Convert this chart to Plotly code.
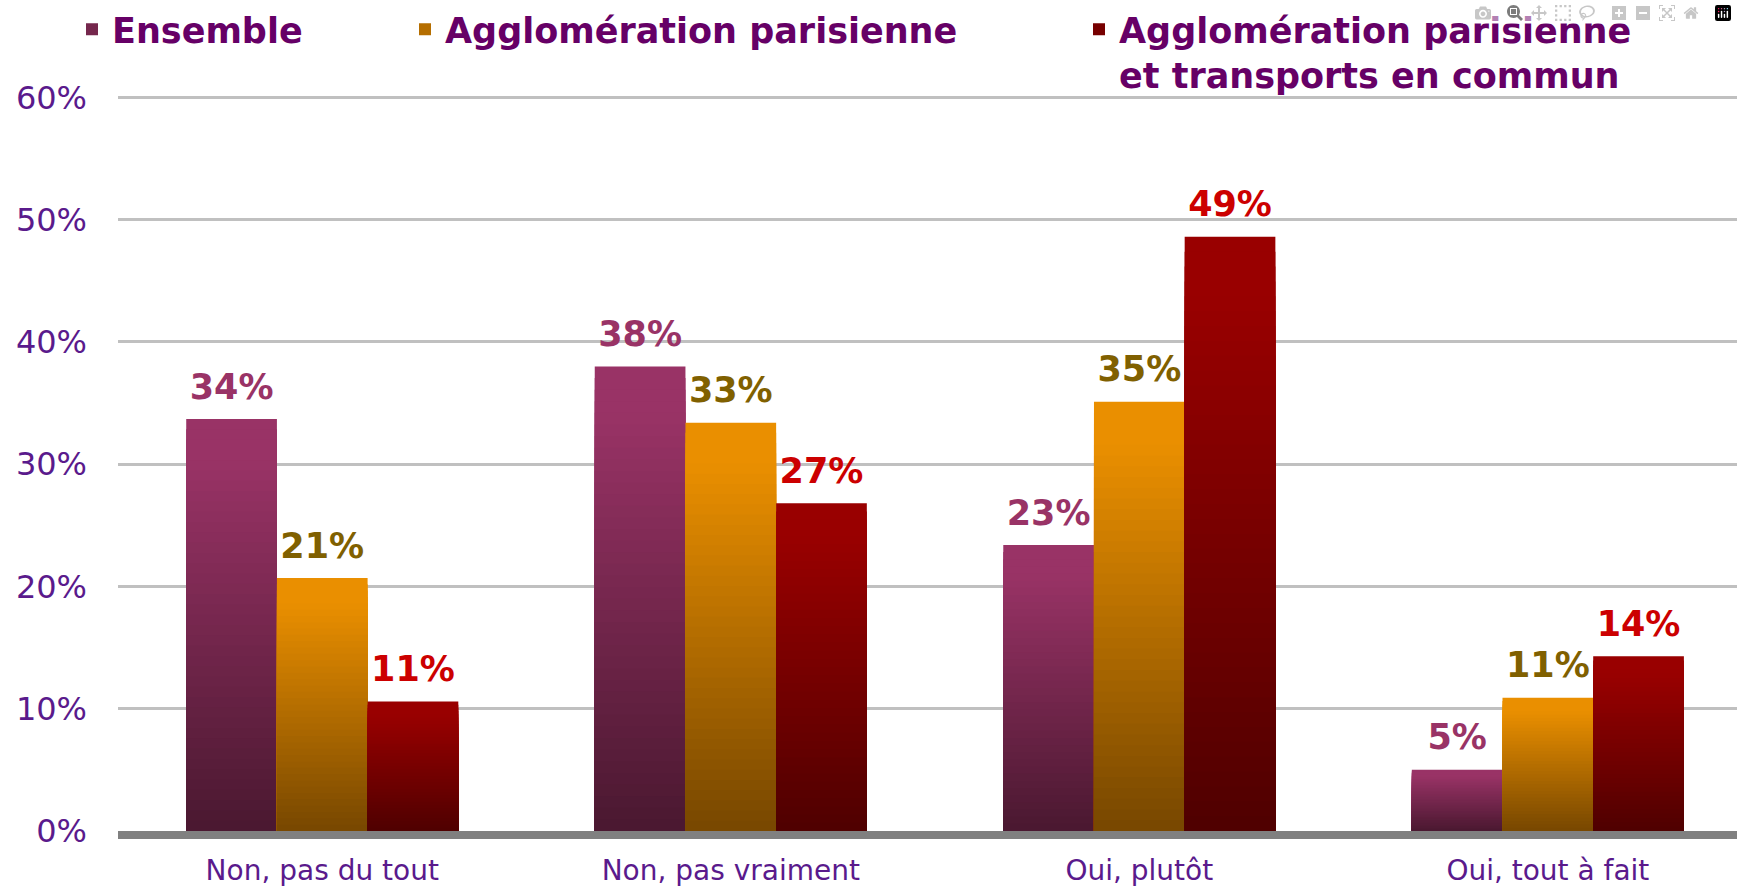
import plotly.graph_objects as go

# ---------------- data ----------------
categories = ["Non, pas du tout", "Non, pas vraiment", "Oui, plutôt", "Oui, tout à fait"]
series_names = [
    "Ensemble",
    "Agglomération parisienne",
    "Agglomération parisienne<br>et transports en commun",
]
ensemble = [33.7, 38.0, 23.4, 5.0]
agglomeration = [20.7, 33.4, 35.1, 10.9]
agglomeration_tc = [10.6, 26.8, 48.6, 14.3]
y_tick_values = [0, 10, 20, 30, 40, 50, 60]
y_tick_labels = ["0%", "10%", "20%", "30%", "40%", "50%", "60%"]

# ---------------- style ----------------
top_colors = [(153, 51, 102), (234, 143, 0), (153, 0, 0)]
bottom_colors = [(74, 24, 48), (119, 71, 0), (79, 0, 0)]
label_colors = ["#993366", "#806000", "#cc0000"]
groups = ["E", "A", "T"]
legends = ["legend", "legend2", "legend3"]
N_STEPS = 40
BARGAP = 0.334


def mix(c_bottom, c_top, t):
    t = min(1.0, max(0.0, t))
    return "rgb(%d,%d,%d)" % tuple(round(b + (a - b) * t) for a, b in zip(c_top, c_bottom))


fig = go.Figure()
all_series = [ensemble, agglomeration, agglomeration_tc]

for s, values in enumerate(all_series):
    # gradient: overlay progressively shorter bars in the same offset group
    for k in range(N_STEPS, 0, -1):
        frac = k / N_STEPS
        t = ((k - 0.5) / N_STEPS) / 0.9
        fig.add_trace(go.Bar(
            x=categories,
            y=[v * frac for v in values],
            offsetgroup=groups[s],
            legendgroup=groups[s],
            name=series_names[s],
            marker=dict(color=mix(bottom_colors[s], top_colors[s], t), line=dict(width=0)),
            showlegend=(k == N_STEPS // 2),
            legend=legends[s],
            hoverinfo="skip" if k != N_STEPS else None,
        ))

# value labels (grouped scatter text aligned with bars)
for s, values in enumerate(all_series):
    fig.add_trace(go.Scatter(
        x=categories,
        y=values,
        mode="markers+text",
        offsetgroup=groups[s],
        marker=dict(size=17, color="rgba(0,0,0,0)"),
        texttemplate="%{y:.0f}%",
        textposition="top center",
        textfont=dict(family="DejaVu Sans", size=35, color=label_colors[s], weight="bold"),
        showlegend=False,
        hoverinfo="skip",
        cliponaxis=False,
    ))

legend_font = dict(family="DejaVu Sans", size=35, color="#660066", weight="bold")
legend_common = dict(
    orientation="v", xref="container", yref="container",
    xanchor="left", yanchor="top", y=1.0, font=legend_font,
    bgcolor="rgba(0,0,0,0)", borderwidth=0, valign="top",
)

fig.update_layout(
    width=1737,
    height=886,
    margin=dict(l=118, r=0, t=95, b=55, pad=0, autoexpand=False),
    plot_bgcolor="white",
    paper_bgcolor="white",
    barmode="group",
    bargap=BARGAP,
    bargroupgap=0,
    scattermode="group",
    scattergap=BARGAP,
    legend=dict(x=72 / 1737, **legend_common),
    legend2=dict(x=405 / 1737, **legend_common),
    legend3=dict(x=1079 / 1737, **legend_common),
    xaxis=dict(
        type="category",
        range=[-0.5, 3.463],
        showline=True,
        linecolor="#808080",
        linewidth=8,
        showgrid=False,
        ticks="",
        tickangle=0,
        automargin=False,
        ticklabelstandoff=7,
        tickfont=dict(family="DejaVu Sans", size=28, color="#5a1a8c"),
    ),
    yaxis=dict(
        range=[0, 60.2],
        tickvals=y_tick_values,
        ticktext=y_tick_labels,
        showgrid=True,
        gridcolor="#c0c0c0",
        gridwidth=3,
        zeroline=False,
        showline=False,
        ticks="",
        automargin=False,
        ticklabelstandoff=30,
        tickfont=dict(family="DejaVu Sans", size=32, color="#5a1a8c"),
    ),
)

fig.write_html("out.html", post_script="document.body.style.margin='0';")
